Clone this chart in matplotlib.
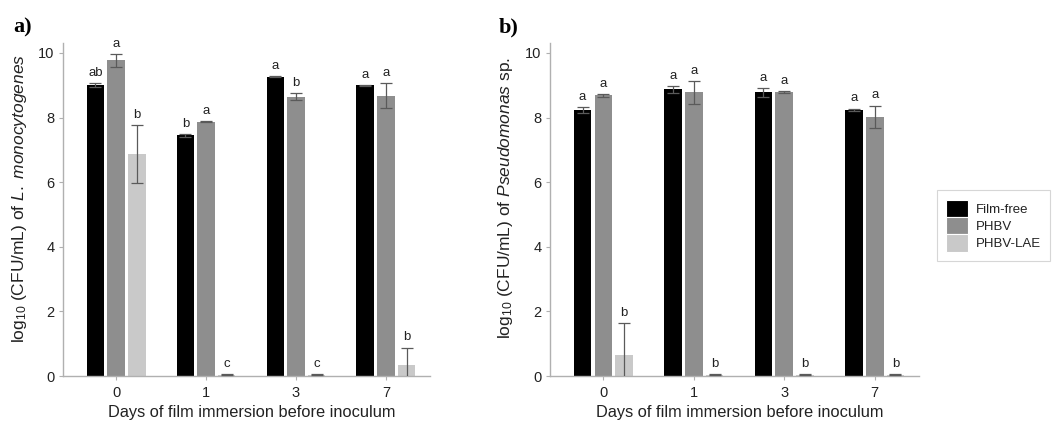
import matplotlib
matplotlib.use("Agg")
import matplotlib.pyplot as plt
import numpy as np
from matplotlib.patches import Patch

plt.rcParams['font.family'] = ['Liberation Sans', 'DejaVu Sans']
plt.rcParams['mathtext.fontset'] = 'custom'
plt.rcParams['mathtext.rm'] = 'Liberation Sans'
plt.rcParams['mathtext.it'] = 'Liberation Sans:italic'

days = ['0', '1', '3', '7']
series = ['Film-free', 'PHBV', 'PHBV-LAE']
colors = ['#000000', '#8e8e8e', '#c9c9c9']

# Panel a: L. monocytogenes
a_free = [9.01, 7.45, 9.27, 9.00]
a_phbv = [9.77, 7.87, 8.65, 8.68]
a_lae = [6.86, 0.04, 0.04, 0.34]
a_free_sd = [0.05, 0.05, 0.01, 0.01]
a_phbv_sd = [0.19, 0.02, 0.12, 0.38]
a_lae_sd = [0.90, 0.01, 0.01, 0.54]
a_letters = [['ab', 'b', 'a', 'a'], ['a', 'a', 'b', 'a'], ['b', 'c', 'c', 'b']]

# Panel b: Pseudomonas sp.
b_free = [8.23, 8.87, 8.78, 8.24]
b_phbv = [8.69, 8.78, 8.79, 8.03]
b_lae = [0.65, 0.04, 0.04, 0.04]
b_free_sd = [0.10, 0.11, 0.14, 0.04]
b_phbv_sd = [0.05, 0.36, 0.02, 0.34]
b_lae_sd = [0.98, 0.01, 0.01, 0.01]
b_letters = [['a', 'a', 'a', 'a'], ['a', 'a', 'a', 'a'], ['b', 'b', 'b', 'b']]

W, H = 1053, 423
fig = plt.figure(figsize=(W / 100, H / 100), dpi=100)

axis_col = '#b0b0b0'
txt_col = '#222222'


def panel(rect, vals, sds, letters, ylabel):
    ax = fig.add_axes(rect)
    x = np.arange(len(days))
    step = 0.23
    width = 0.195
    for i, (v, s, c) in enumerate(zip(vals, sds, colors)):
        pos = x + (i - 1) * step
        ax.bar(pos, v, width=width, color=c, edgecolor='none', zorder=2)
        ax.errorbar(pos, v, yerr=s, fmt='none', ecolor='#5a5a5a',
                    elinewidth=0.9, capsize=4, capthick=0.9, zorder=3)
        for p, vv, ss, lt in zip(pos, v, s, letters[i]):
            ax.annotate(lt, (p, vv + ss), xytext=(0, 3), textcoords='offset points',
                        ha='center', va='bottom', fontsize=9.5, color=txt_col)
    ax.set_xlim(-0.59, 3.49)
    ax.set_ylim(0, 10.3)
    ax.set_xticks(x)
    ax.set_xticklabels(days)
    ax.set_yticks([0, 2, 4, 6, 8, 10])
    for sp in ['top', 'right']:
        ax.spines[sp].set_visible(False)
    for sp in ['left', 'bottom']:
        ax.spines[sp].set_color(axis_col)
        ax.spines[sp].set_linewidth(1.0)
    ax.tick_params(axis='both', colors=axis_col, length=3, width=0.8,
                   labelcolor=txt_col, labelsize=10.5, pad=3)
    ax.tick_params(axis='x', pad=4)
    ax.set_ylabel(ylabel, fontsize=12.5, color=txt_col)
    ax.yaxis.set_label_coords(-0.094, 0.535)
    ax.set_xlabel('Days of film immersion before inoculum', fontsize=11.8,
                  color=txt_col, labelpad=3)
    ax.xaxis.set_label_coords(0.515, -0.088)
    return ax


bottom = 1 - 376 / H
top = 1 - 43.3 / H
ha = top - bottom
ax1 = panel([63 / W, bottom, (430 - 63) / W, ha],
            [a_free, a_phbv, a_lae], [a_free_sd, a_phbv_sd, a_lae_sd], a_letters,
            r'log$_{10}$ (CFU/mL) of $\mathit{L.\ monocytogenes}$')
ax2 = panel([550 / W, bottom, (919 - 550) / W, ha],
            [b_free, b_phbv, b_lae], [b_free_sd, b_phbv_sd, b_lae_sd], b_letters,
            r'log$_{10}$ (CFU/mL) of $\mathit{Pseudomonas}$ sp.')

fig.text(13 / W, 1 - 32 / H, 'a)', fontsize=16, fontweight='bold',
         family='Liberation Serif', ha='left', va='baseline')
fig.text(499 / W, 1 - 32 / H, 'b)', fontsize=16, fontweight='bold',
         family='Liberation Serif', ha='left', va='baseline')

handles = [Patch(facecolor=c, edgecolor='white', linewidth=0.8) for c in colors]
leg = fig.legend(handles, series, loc='lower left',
                 bbox_to_anchor=(937 / W, 1 - 261 / H), frameon=True,
                 fontsize=9.5, handlelength=1.65, handleheight=1.65,
                 labelspacing=0.0, handletextpad=0.6, borderpad=0.7,
                 borderaxespad=0.0, fancybox=False, edgecolor='#cccccc')
leg.get_frame().set_linewidth(0.8)
for t in leg.get_texts():
    t.set_color(txt_col)

fig.savefig('out.png', dpi=100)
